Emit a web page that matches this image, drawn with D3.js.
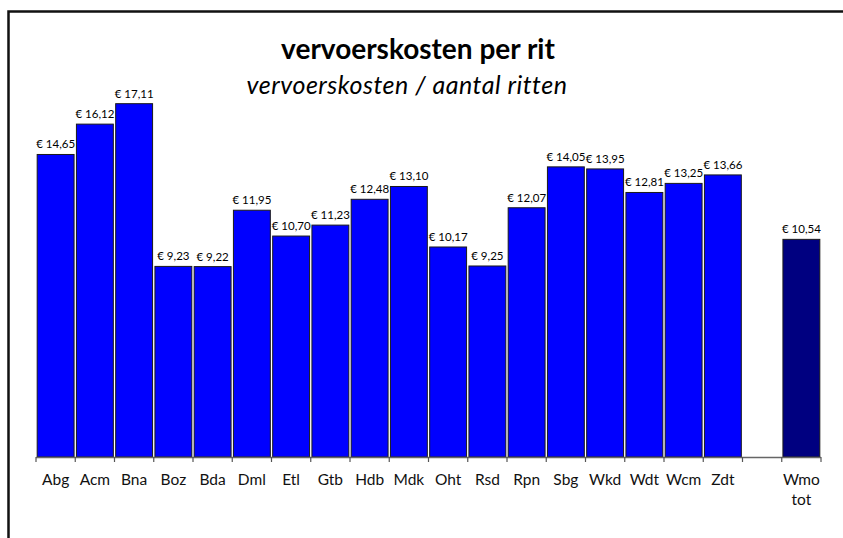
<!DOCTYPE html>
<html>
<head>
<meta charset="utf-8">
<script src="https://cdn.jsdelivr.net/npm/d3@7"></script>
<style>
  body { margin: 0; background: #fff; }
  text { font-family: Lato, "Open Sans", sans-serif; }
</style>
</head>
<body>
<div id="chart"></div>
<script>
// data
const categories = ["Abg", "Acm", "Bna", "Boz", "Bda", "Dml", "Etl", "Gtb", "Hdb", "Mdk",
  "Oht", "Rsd", "Rpn", "Sbg", "Wkd", "Wdt", "Wcm", "Zdt", "", "Wmo tot"];
const values = [14.65, 16.12, 17.11, 9.23, 9.22, 11.95, 10.70, 11.23, 12.48, 13.10,
  10.17, 9.25, 12.07, 14.05, 13.95, 12.81, 13.25, 13.66, null, 10.54];
const totalCategory = "Wmo tot";

const width = 843, height = 538;
const svg = d3.select("#chart").append("svg")
  .attr("width", width)
  .attr("height", height);

// outer frame (only top/left visible, rest runs off the canvas)
svg.append("rect")
  .attr("x", 8.5).attr("y", 11.5)
  .attr("width", 900).attr("height", 600)
  .attr("fill", "none")
  .attr("stroke", "#111")
  .attr("stroke-width", 2.5);

const x = d3.scaleBand()
  .domain(categories.map((c, i) => i))
  .range([36, 821])
  .paddingInner(0.06)
  .paddingOuter(0.03);

const y = d3.scaleLinear()
  .domain([0, 20])
  .range([457, 44]);

// bars
const data = categories.map((c, i) => ({ cat: c, i: i, v: values[i] })).filter(d => d.v != null);

svg.append("g")
  .selectAll("rect")
  .data(data)
  .enter().append("rect")
  .attr("x", d => x(d.i))
  .attr("y", d => y(d.v))
  .attr("width", x.bandwidth())
  .attr("height", d => y(0) - y(d.v))
  .attr("fill", d => d.cat === totalCategory ? "#000080" : "#0000FF")
  .attr("stroke", "#1a1a1a")
  .attr("stroke-width", 1);

// value labels
svg.append("g")
  .selectAll("text")
  .data(data)
  .enter().append("text")
  .attr("x", d => x(d.i) + x.bandwidth() / 2)
  .attr("y", d => y(d.v) - 6)
  .attr("text-anchor", "middle")
  .attr("font-size", 11.5)
  .attr("fill", "#000")
  .text(d => "€ " + d.v.toFixed(2).replace(".", ","));

// x axis: line with ticks at slot boundaries
const tickPos = d3.range(categories.length + 1).map(i => 36 + i * (785 / categories.length));
const axis = svg.append("g");
axis.append("line")
  .attr("x1", 36).attr("x2", 821)
  .attr("y1", 457.5).attr("y2", 457.5)
  .attr("stroke", "#666").attr("stroke-width", 1.5);
axis.selectAll(".tick")
  .data(tickPos)
  .enter().append("line")
  .attr("x1", d => d).attr("x2", d => d)
  .attr("y1", 457).attr("y2", 462)
  .attr("stroke", "#555").attr("stroke-width", 1.2);

// category labels
const catLabels = axis.selectAll(".cat")
  .data(categories.map((c, i) => ({ c: c, i: i })))
  .enter().append("text")
  .attr("text-anchor", "middle")
  .attr("font-size", 15.5)
  .attr("fill", "#111")
  .attr("x", d => x(d.i) + x.bandwidth() / 2)
  .attr("y", 485);
catLabels.each(function(d) {
  const parts = d.c.split(" ");
  const t = d3.select(this);
  parts.forEach((p, k) => {
    t.append("tspan")
      .attr("x", x(d.i) + x.bandwidth() / 2)
      .attr("dy", k === 0 ? 0 : 20)
      .text(p);
  });
});

// titles
svg.append("text")
  .attr("x", 418).attr("y", 59)
  .attr("text-anchor", "middle")
  .attr("font-size", 28)
  .attr("font-weight", "bold")
  .attr("fill", "#000")
  .text("vervoerskosten per rit");

svg.append("text")
  .attr("x", 407).attr("y", 94)
  .attr("text-anchor", "middle")
  .attr("font-size", 25)
  .attr("font-style", "italic")
  .attr("letter-spacing", 0.5)
  .attr("fill", "#000")
  .text("vervoerskosten / aantal ritten");
</script>
</body>
</html>
